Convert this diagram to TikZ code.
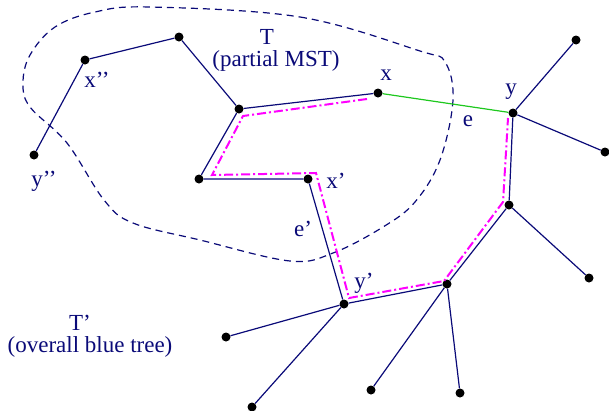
\documentclass[tikz,border=0pt]{standalone}
\usepackage{fontspec}
\setmainfont{Liberation Serif}
\begin{document}
\begin{tikzpicture}[x=1pt,y=-1pt,
  dot/.style={circle,fill=black,inner sep=0pt,minimum size=9pt},
  lbl/.style={text=navyc,font=\fontsize{23}{25}\selectfont,inner sep=0pt,align=center},
  edge/.style={draw=navyc,line width=1.2pt},
  redge/.style={draw=greenc,line width=1.2pt},
  mpath/.style={draw=magc,line width=2pt,dash pattern=on 9pt off 3pt on 2pt off 3pt},
  bound/.style={draw=navyc,line width=1.2pt,dash pattern=on 7pt off 5pt}]
\definecolor{navyc}{RGB}{10,10,120}
\definecolor{greenc}{RGB}{30,200,30}
\definecolor{magc}{RGB}{255,0,255}
\useasboundingbox (0,0) rectangle (609,410);

% dashed boundary of T
\draw[bound] plot[smooth cycle,tension=0.6] coordinates {
 (150,7) (300,17) (420,51) (445,62) (453,100) (440,160) (415,202)
 (383,227) (333,253) (290,261) (200,240) (133,223) (104,200)
 (67,143) (30,107) (23,83) (30,55) (55,27) (95,12)};

% nodes
\node[dot] (ypp) at (34,155) {};
\node[dot] (xpp) at (85,60) {};
\node[dot] (top) at (179,37) {};
\node[dot] (a) at (239,109) {};
\node[dot] (b) at (199,179) {};
\node[dot] (x) at (378,93) {};
\node[dot] (xp) at (308,179) {};
\node[dot] (y) at (513,113) {};
\node[dot] (tr) at (576,40) {};
\node[dot] (r) at (605,152) {};
\node[dot] (d) at (509,205) {};
\node[dot] (rb) at (589,278) {};
\node[dot] (c) at (447,284) {};
\node[dot] (yp) at (344,304) {};
\node[dot] (b1) at (371,390) {};
\node[dot] (b2) at (460,393) {};
\node[dot] (ll) at (226,337) {};
\node[dot] (bl) at (252,407) {};

% magenta path
\coordinate (m1) at (367,99);
\coordinate (m2) at (243,116);
\coordinate (m3) at (212,175);
\coordinate (m4) at (316,173);
\coordinate (m5) at (349,298);
\coordinate (m6) at (444,281);
\coordinate (m7) at (503,202);
\coordinate (m8) at (508,118);
\draw[mpath,line join=miter] (m1) -- (m2) -- (m3) -- (m4) -- (m5) -- (m6) -- (m7) -- (m8);

% edges
\draw[edge] (ypp) -- (xpp) -- (top) -- (a) -- (x);
\draw[edge] (a) -- (b) -- (xp) -- (yp) -- (c) -- (d) -- (y);
\draw[edge] (y) -- (tr);
\draw[edge] (y) -- (r);
\draw[edge] (d) -- (rb);
\draw[edge] (c) -- (b1);
\draw[edge] (c) -- (b2);
\draw[edge] (yp) -- (ll);
\draw[edge] (yp) -- (bl);
\draw[redge] (x) -- (y);

% labels
\node[lbl] (lT) at (267,37) {T};
\node[lbl] (lpm) at (276,61) {(partial MST)};
\node[lbl] (lxpp) at (97,80) {x’{}’};
\node[lbl] (lypp) at (44,181) {y’{}’};
\node[lbl] (lx) at (386,75) {x};
\node[lbl] (ly) at (511,92) {y};
\node[lbl] (le) at (468,121) {e};
\node[lbl] (lxp) at (336,181) {x’};
\node[lbl] (lep) at (303,229) {e’};
\node[lbl] (lyp) at (364,283) {y’};
\node[lbl] (lTp) at (80,323) {T’};
\node[lbl] (lov) at (90,347) {(overall blue tree)};
\end{tikzpicture}
\end{document}
